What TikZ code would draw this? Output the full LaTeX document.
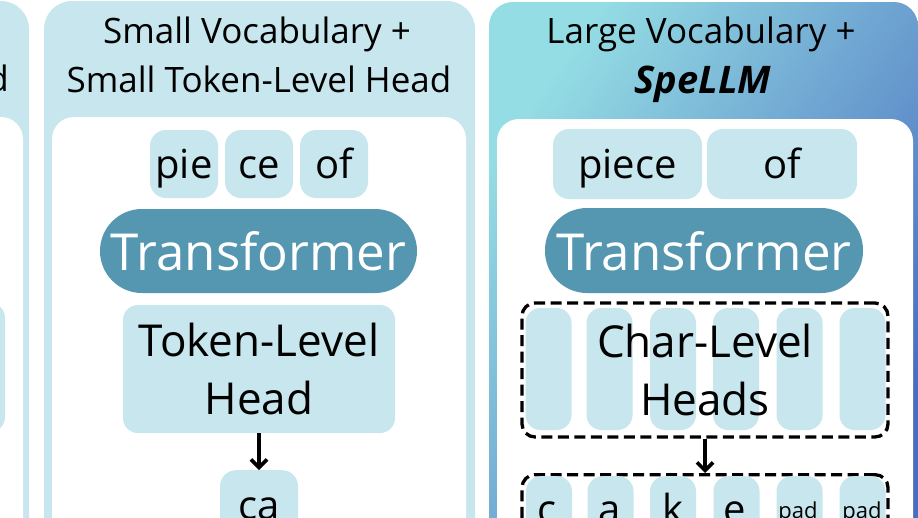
\documentclass[tikz,border=0pt]{standalone}
\usepackage{fontspec}
\setmainfont{Open Sans}
\usetikzlibrary{arrows.meta}
\definecolor{lb}{HTML}{C7E6EE}
\definecolor{tf}{HTML}{5596B0}
\definecolor{ga}{HTML}{94DDE4}
\definecolor{gb}{HTML}{4A6DBF}
\begin{document}
\begin{tikzpicture}[x=1pt,y=-1pt,
  panelbg/.style={fill=lb,draw=none,rounded corners=28pt},
  innerbg/.style={fill=white,draw=none,rounded corners=22pt},
  tok/.style={fill=lb,draw=none,rounded corners=16pt,inner sep=0pt,
     font=\fontsize{40}{46}\selectfont,text height=36pt,text depth=8pt},
  trans/.style={fill=tf,draw=none,rounded corners=42pt,inner sep=0pt,text=white,
     minimum width=317pt,minimum height=84pt,
     font=\fontsize{51}{58}\selectfont,text height=48pt,text depth=9pt},
  headbox/.style={fill=lb,draw=none,rounded corners=15pt,inner sep=0pt,align=center,
     font=\fontsize{44}{58}\selectfont},
  pill/.style={fill=lb,draw=none,rounded corners=15pt,inner sep=0pt,minimum width=46pt},
  dbox/.style={draw=black,line width=3.3pt,dash pattern=on 11pt off 5.5pt,rounded corners=13pt,inner sep=0pt},
  title/.style={font=\fontsize{35}{40}\selectfont,anchor=base,inner sep=0pt},
  arr/.style={line width=3.6pt,-{Straight Barb[length=8pt,width=16pt,line width=3.6pt]}},
  letter/.style={inner sep=0pt,anchor=base,font=\fontsize{40}{46}\selectfont},
  padtxt/.style={inner sep=0pt,anchor=base,font=\fontsize{22}{26}\selectfont}
]
\useasboundingbox (0,0) rectangle (918,517);
\clip (0,0) rectangle (918,517);
% panel 0 (cut off)
\path[panelbg] (-80,1) rectangle (29,640);
\path[innerbg] (-80,117) rectangle (23,660);
\path[fill=lb,rounded corners=15pt] (-100,303) rectangle (5,432);
\node[title,anchor=base east] (h0) at (9,91) {Head};
% panel 1
\path[panelbg] (44,1) rectangle (475,640);
\path[innerbg] (52,117) rectangle (466,660);
\node[title] (t1a) at (257,43) {Small Vocabulary +};
\node[title] (t1b) at (259,92) {Small Token-Level Head};
\node[tok,minimum width=68pt,minimum height=68pt] (p1) at (184,164) {pie};
\node[tok,minimum width=68pt,minimum height=68pt] (p2) at (259,164) {ce};
\node[tok,minimum width=68pt,minimum height=68pt] (p3) at (334,164) {of};
\node[trans] (tr1) at (258.5,251) {Transformer};
\node[headbox,minimum width=272pt,minimum height=128pt] (th) at (259,369) {Token-Level\\Head};
\node[tok,minimum width=78pt,minimum height=96pt,anchor=north] (ca) at (259,470) {};
\node[letter] (catxt) at (259,519) {ca};
\draw[arr] (th.south) -- (ca.north);
% panel 2
\shade[top color=ga,bottom color=gb,shading angle=55,rounded corners=24pt] (489,2) rectangle (918,540);
\path[innerbg] (497,119) rectangle (913,660);
\node[title] (t2a) at (701,43) {Large Vocabulary +};
\node[title,font=\fontsize{38}{40}\selectfont\bfseries\itshape] (t2b) at (703,93) {SpeLLM};
\node[tok,minimum width=149pt,minimum height=70pt] (q1) at (627.5,164) {piece};
\node[tok,minimum width=150pt,minimum height=70pt] (q2) at (782,164) {of};
\node[trans,minimum width=318pt,minimum height=85pt] (tr2) at (704,250.5) {Transformer};
\foreach \i/\x in {1/548.5,2/609.5,3/673,4/736,5/799.5,6/862.5}{
  \node[pill,minimum height=122pt] (h\i) at (\x,369) {};
}
\node[dbox,minimum width=366pt,minimum height=134pt] (cl) at (705,370) {};
\node[inner sep=0pt,align=center,font=\fontsize{44}{58}\selectfont] (cltxt) at (705,370) {Char-Level\\Heads};
\node[dbox,minimum width=366pt,minimum height=120pt,anchor=north] (out) at (705,473) {};
\foreach \i/\x in {1/549,2/610.5,3/673,4/736.5,5/799.5,6/862.5}{
  \node[pill,minimum height=100pt,anchor=north] (o\i) at (\x,476) {};
}
\node[letter] (lc) at (547,523) {c};
\node[letter] (la) at (610,523) {a};
\node[letter] (lk) at (673,523) {k};
\node[letter] (le) at (735,523) {e};
\node[padtxt] (lp1) at (798,518) {pad};
\node[padtxt] (lp2) at (862,518) {pad};
\draw[arr] (cl.south) -- (out.north);
\end{tikzpicture}
\end{document}
